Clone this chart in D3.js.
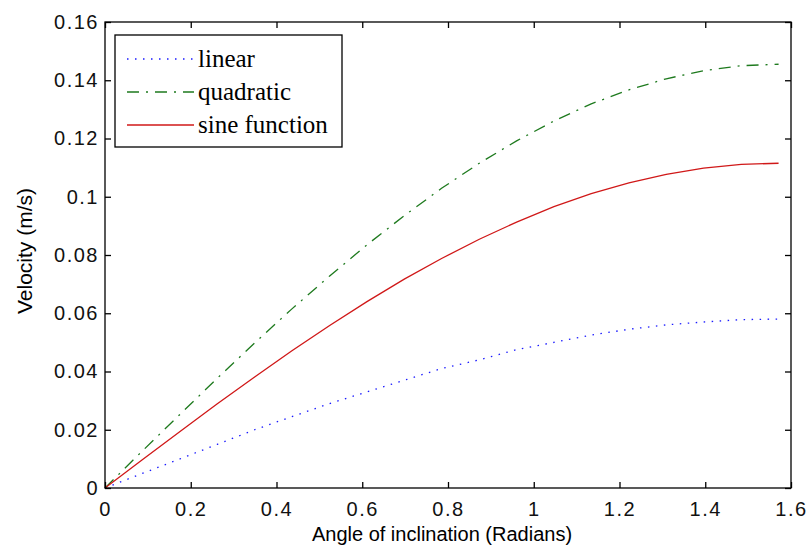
<!DOCTYPE html>
<html>
<head>
<meta charset="utf-8">
<script src="https://cdn.jsdelivr.net/npm/d3@7"></script>
<style>
  body { margin: 0; background: #fff; }
  .tick text { font-family: "Liberation Sans", Arial, sans-serif; font-size: 20px; letter-spacing: 1.5px; }
</style>
</head>
<body>
<div id="chartHolder"></div>
<script>
// angle of inclination (radians), 5 degree steps
const angles = [0, 0.087, 0.175, 0.262, 0.349, 0.436, 0.524, 0.611, 0.698, 0.785,
  0.873, 0.960, 1.047, 1.134, 1.222, 1.309, 1.396, 1.484, 1.571];
const linearVel = [0, 0.005, 0.010, 0.015, 0.020, 0.0245, 0.029, 0.033, 0.037, 0.041,
  0.044, 0.0475, 0.050, 0.0525, 0.0545, 0.056, 0.057, 0.0578, 0.058];
const quadraticVel = [0, 0.0127, 0.0253, 0.0377, 0.0498, 0.0615, 0.0728, 0.0835, 0.0935, 0.1029,
  0.1115, 0.1192, 0.126, 0.1319, 0.1367, 0.1405, 0.1433, 0.145, 0.1455];
const sineVel = [0, 0.0097, 0.0194, 0.0289, 0.0381, 0.0471, 0.0558, 0.064, 0.0717, 0.0788,
  0.0854, 0.0913, 0.0966, 0.1011, 0.1048, 0.1077, 0.1098, 0.1111, 0.1115];
const xTicks = [0, 0.2, 0.4, 0.6, 0.8, 1, 1.2, 1.4, 1.6];
const yTicks = [0, 0.02, 0.04, 0.06, 0.08, 0.1, 0.12, 0.14, 0.16];
const seriesNames = ["linear", "quadratic", "sine function"];

var margin = { top: 22, right: 21, bottom: 61, left: 105 },
  width = 812 - margin.left - margin.right,
  height = 549 - margin.top - margin.bottom;

var svg = d3.select("#chartHolder")
  .append("svg")
  .attr("width", 812)
  .attr("height", 549);

var g = svg.append("g")
  .attr("transform", "translate(" + margin.left + "," + margin.top + ")");

var x = d3.scaleLinear().domain([0, 1.6]).range([0, width]);
var y = d3.scaleLinear().domain([0, 0.16]).range([height, 0]);

// series styles
var styles = [
  { values: linearVel, color: "#1a1aff", dash: "1.5,6.5", w: 1.3 },
  { values: quadraticVel, color: "#1e7a1e", dash: "12,7,2,7", w: 1.3 },
  { values: sineVel, color: "#d01818", dash: null, w: 1.3 }
];

var line = d3.line()
  .x((d) => x(d[0]))
  .y((d) => y(d[1]));

styles.forEach(function (s) {
  g.append("path")
    .datum(angles.map((a, i) => [a, s.values[i]]))
    .attr("d", line)
    .attr("fill", "none")
    .attr("stroke", s.color)
    .attr("stroke-width", s.w)
    .attr("stroke-dasharray", s.dash);
});

// axes, ticks pointing inward on all four sides
function cleanAxis(sel) {
  sel.select(".domain").remove();
  sel.selectAll("line").attr("stroke", "#000").attr("stroke-width", 1.3);
}

g.append("g")
  .attr("transform", `translate(0,${height})`)
  .call(d3.axisBottom(x).tickValues(xTicks).tickSize(-6).tickPadding(14).tickFormat(d3.format("~g")))
  .call(cleanAxis)
  .selectAll("text").attr("fill", "#111");

g.append("g")
  .call(d3.axisTop(x).tickValues(xTicks).tickSize(-6).tickFormat(""))
  .call(cleanAxis);

g.append("g")
  .call(d3.axisLeft(y).tickValues(yTicks).tickSize(-6).tickPadding(6).tickFormat(d3.format("~g")))
  .call(cleanAxis)
  .selectAll("text").attr("fill", "#111");

g.append("g")
  .attr("transform", `translate(${width},0)`)
  .call(d3.axisRight(y).tickValues(yTicks).tickSize(-6).tickFormat(""))
  .call(cleanAxis);

g.append("rect")
  .attr("width", width)
  .attr("height", height)
  .attr("fill", "none")
  .attr("stroke", "#000")
  .attr("stroke-width", 1.3);

// axis labels
svg.append("text")
  .attr("x", margin.left + width / 2 - 6)
  .attr("y", 541)
  .attr("text-anchor", "middle")
  .style("font-family", "Liberation Sans, Arial, sans-serif")
  .style("font-size", "20px")
  .text("Angle of inclination (Radians)");

svg.append("text")
  .attr("transform", "translate(32,251) rotate(-90)")
  .attr("text-anchor", "middle")
  .style("font-family", "Liberation Sans, Arial, sans-serif")
  .style("font-size", "21px")
  .text("Velocity (m/s)");

// legend
var legend = svg.append("g").attr("transform", "translate(115,35)");
legend.append("rect")
  .attr("width", 227)
  .attr("height", 112)
  .attr("fill", "#fff")
  .attr("stroke", "#000")
  .attr("stroke-width", 1.3);

seriesNames.forEach(function (name, i) {
  var ly = 24 + i * 33;
  legend.append("line")
    .attr("x1", 12).attr("x2", 79)
    .attr("y1", ly).attr("y2", ly)
    .attr("stroke", styles[i].color)
    .attr("stroke-width", styles[i].w)
    .attr("stroke-dasharray", styles[i].dash);
  legend.append("text")
    .attr("x", 83)
    .attr("y", ly + 8)
    .style("font-family", "Liberation Serif, Times New Roman, serif")
    .style("font-size", "25px")
    .text(name);
});
</script>
</body>
</html>
